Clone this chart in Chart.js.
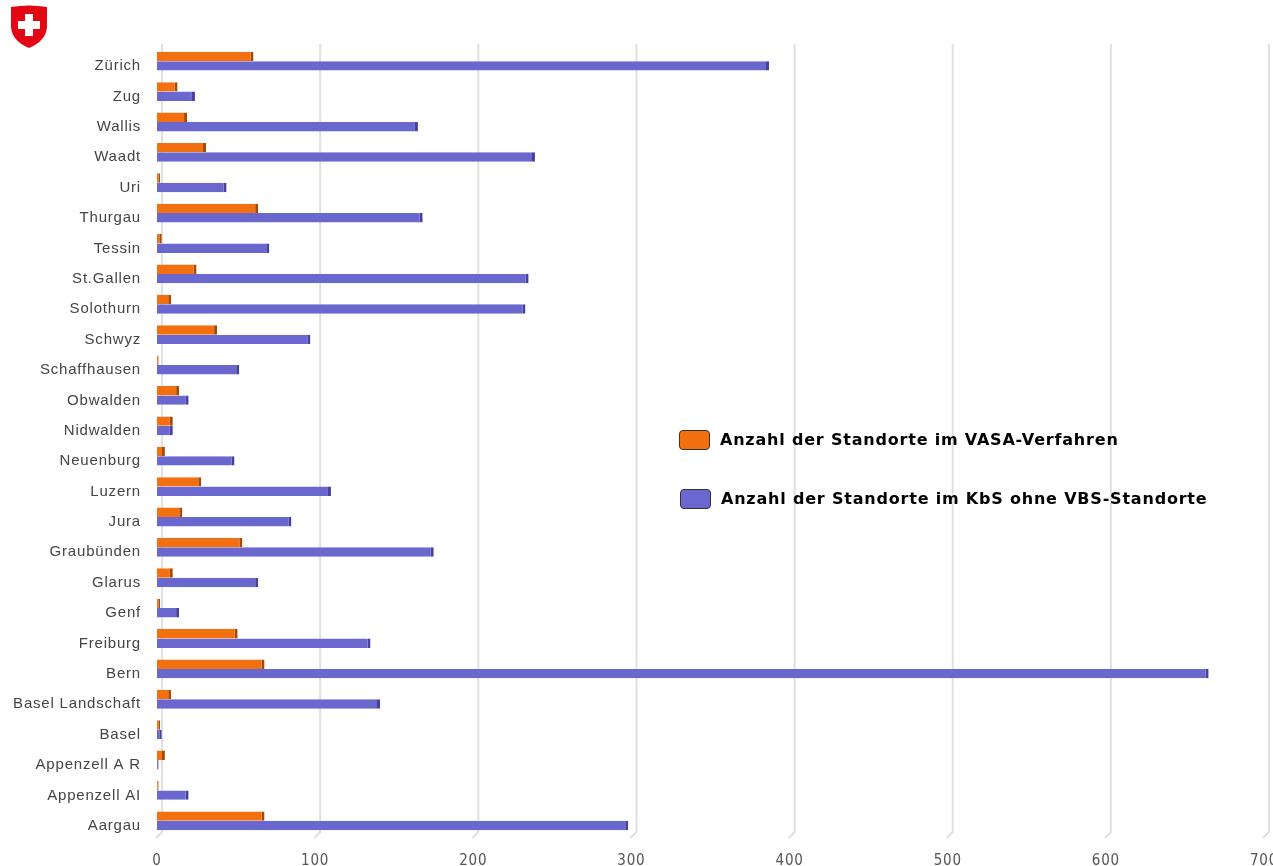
<!DOCTYPE html>
<html>
<head>
<meta charset="utf-8">
<script src="https://cdn.jsdelivr.net/npm/chart.js@4/dist/chart.umd.min.js"></script>
<style>
  html, body { margin:0; padding:0; background:#fff; }
  #wrap { position:relative; width:1273px; height:866px; }
  #c { position:absolute; left:0; top:0; }
  #logo { position:absolute; left:10px; top:5px; }
  #legend { position:absolute; left:679px; top:429px; font-family:"DejaVu Sans", sans-serif; font-weight:bold; font-size:16px; letter-spacing:0.8px; color:#000; }
  .li { display:flex; align-items:center; height:21px; margin-bottom:38px; white-space:nowrap; }
  .li:nth-child(2) { margin-left:1px; }
  .sw { width:31px; height:20px; border:1.5px solid #333; border-radius:4px; margin-right:10px; box-sizing:border-box; flex:none; }
</style>
</head>
<body>
<div id="wrap">
  <canvas id="c" width="1273" height="866"></canvas>
  <svg id="logo" width="38" height="44" viewBox="0 0 38 44">
    <path d="M1 2 Q19 -1 37 2 L37 22 Q36 36 19 43 Q2 36 1 22 Z" fill="#e30613"/>
    <rect x="15" y="9" width="8" height="22" fill="#fff"/>
    <rect x="8" y="16" width="22" height="8" fill="#fff"/>
  </svg>
  <div id="legend"></div>
</div>
<script>
const categories = ["Zürich","Zug","Wallis","Waadt","Uri","Thurgau","Tessin","St.Gallen","Solothurn","Schwyz","Schaffhausen","Obwalden","Nidwalden","Neuenburg","Luzern","Jura","Graubünden","Glarus","Genf","Freiburg","Bern","Basel Landschaft","Basel","Appenzell A R","Appenzell AI","Aargau"];
const vasaLabel = "Anzahl der Standorte im VASA-Verfahren";
const kbsLabel = "Anzahl der Standorte im KbS ohne VBS-Standorte";
const vasaValues = [61,13,19,31,2,64,3,25,9,38,1,14,10,5,28,16,54,10,2,51,68,9,2,5,1,68];
const kbsValues = [387,24,165,239,44,168,71,235,233,97,52,20,10,49,110,85,175,64,14,135,665,141,3,1,20,298];
const xTicks = [0,100,200,300,400,500,600,700];

const colors = [
  {bg:"#F2700F", edge:"#A84A05"},
  {bg:"#6A67CF", edge:"#44429A"}
];

const spacingPlugin = {
  id:"spacing",
  beforeUpdate(chart){ chart.ctx.letterSpacing = "0.8px"; },
  beforeDraw(chart){ chart.ctx.letterSpacing = "0.8px"; }
};

const gridPlugin = {
  id:"grid3d",
  beforeDatasetsDraw(chart){
    const {ctx, chartArea, scales} = chart;
    const xs = scales.x;
    ctx.save();
    ctx.strokeStyle = "#e0e0e0";
    ctx.lineWidth = 2;
    xTicks.forEach(v => {
      const px = xs.getPixelForValue(v);
      ctx.beginPath();
      ctx.moveTo(px + 5, chartArea.top - 2);
      ctx.lineTo(px + 5, chartArea.bottom - 4);
      ctx.lineTo(px - 1, chartArea.bottom + 2);
      ctx.stroke();
    });
    ctx.restore();
  }
};

const chart = new Chart(document.getElementById("c"), {
  type: "bar",
  data: {
    labels: categories,
    datasets: [
      {label: vasaLabel, data: vasaValues, backgroundColor: colors[0].bg, borderColor: colors[0].edge, borderWidth:{top:0,right:3,bottom:0,left:0}, borderSkipped:false},
      {label: kbsLabel, data: kbsValues, backgroundColor: colors[1].bg, borderColor: colors[1].edge, borderWidth:{top:0,right:3,bottom:0,left:0}, borderSkipped:false}
    ]
  },
  options: {
    indexAxis: "y",
    responsive: false,
    animation: false,
    layout: { padding: { top: 46, right: 9, left: 0, bottom: 0 } },
    plugins: { legend: { display: false }, tooltip: { enabled: false } },
    datasets: { bar: { categoryPercentage: 0.62, barPercentage: 1.0 } },
    scales: {
      x: {
        min: 0, max: 700,
        afterBuildTicks(s){ s.ticks = xTicks.map(v => ({value:v})); },
        afterFit(s){ s.height = 30; s.paddingRight = 0; s.paddingLeft = 0; },
        grid: { display: false, drawTicks:false },
        border: { display: false },
        ticks: { color:"#555", padding: 16, font: { family: "'Liberation Sans Narrow', 'DejaVu Sans Condensed', sans-serif", size: 15 } }
      },
      y: {
        afterFit(s){ s.width = 157; s.paddingTop = 0; s.paddingBottom = 0; },
        grid: { display: false, drawTicks:false },
        border: { display: false },
        ticks: { color:"#444", padding: 16, labelOffset: 5, autoSkip:false, font: { family: "'Liberation Sans', Arial, sans-serif", size: 15 } }
      }
    }
  },
  plugins: [spacingPlugin, gridPlugin]
});

const leg = document.getElementById("legend");
chart.data.datasets.forEach(ds => {
  const d = document.createElement("div");
  d.className = "li";
  const sw = document.createElement("div");
  sw.className = "sw";
  sw.style.background = ds.backgroundColor;
  const t = document.createElement("span");
  t.textContent = ds.label;
  d.appendChild(sw); d.appendChild(t);
  leg.appendChild(d);
});
</script>
</body>
</html>
